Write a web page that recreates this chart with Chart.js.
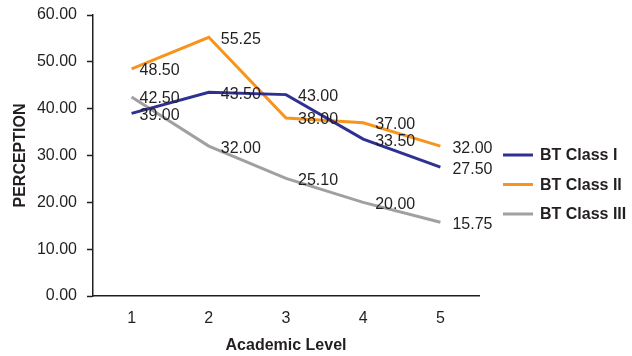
<!DOCTYPE html>
<html>
<head>
<meta charset="utf-8">
<script src="https://cdn.jsdelivr.net/npm/chart.js@4.4.1/dist/chart.umd.min.js"></script>
<style>
  html, body { margin: 0; padding: 0; background: #ffffff; }
  #wrap { width: 632px; height: 356px; }
</style>
</head>
<body>
<div id="wrap"><canvas id="c" width="632" height="356"></canvas></div>
<script>
// Academic levels on the x axis
const levels = ['1', '2', '3', '4', '5'];

// Perception scores per class
const classI   = [39.00, 43.50, 43.00, 33.50, 27.50];
const classII  = [48.50, 55.25, 38.00, 37.00, 32.00];
const classIII = [42.50, 32.00, 25.10, 20.00, 15.75];

const seriesNames = ['BT Class I', 'BT Class II', 'BT Class III'];
const seriesColors = ['#2e3192', '#f7941d', '#a0a0a0'];

const textColor = '#231f20';
const fontFamily = '"Liberation Sans", Arial, sans-serif';

// Writes each point's value just right of the point
const valueLabels = {
  id: 'valueLabels',
  afterDatasetsDraw(chart) {
    const ctx = chart.ctx;
    ctx.save();
    ctx.font = '16px ' + fontFamily;
    ctx.fillStyle = textColor;
    ctx.textAlign = 'left';
    ctx.textBaseline = 'middle';
    chart.data.datasets.forEach((ds, di) => {
      const meta = chart.getDatasetMeta(di);
      meta.data.forEach((pt, i) => {
        const dx = i === 0 ? 8 : 12;
        ctx.fillText(ds.data[i].toFixed(2), pt.x + dx, pt.y + 2);
      });
    });
    ctx.restore();
  }
};

// Legend drawn to the right of the plot
const sideLegend = {
  id: 'sideLegend',
  afterDraw(chart) {
    const ctx = chart.ctx;
    ctx.save();
    ctx.font = 'bold 16px ' + fontFamily;
    ctx.textBaseline = 'middle';
    ctx.textAlign = 'left';
    const x0 = 503, y0 = 155, step = 29.5;
    chart.data.datasets.forEach((ds, i) => {
      const y = y0 + i * step;
      ctx.strokeStyle = ds.borderColor;
      ctx.lineWidth = 3;
      ctx.beginPath();
      ctx.moveTo(x0, y);
      ctx.lineTo(x0 + 30, y);
      ctx.stroke();
      ctx.fillStyle = textColor;
      ctx.fillText(ds.label, x0 + 37, y + 1);
    });
    ctx.restore();
  }
};

const makeSet = (name, values, color) => ({
  label: name,
  data: values,
  borderColor: color,
  backgroundColor: color,
  borderWidth: 3,
  pointRadius: 0,
  pointHoverRadius: 0,
  tension: 0,
  fill: false
});

new Chart(document.getElementById('c'), {
  type: 'line',
  data: {
    labels: levels,
    datasets: [
      makeSet(seriesNames[0], classI, seriesColors[0]),
      makeSet(seriesNames[1], classII, seriesColors[1]),
      makeSet(seriesNames[2], classIII, seriesColors[2])
    ]
  },
  options: {
    responsive: false,
    animation: false,
    devicePixelRatio: 1,
    layout: { padding: { top: 15, right: 153, left: 0, bottom: 0 } },
    plugins: {
      legend: { display: false },
      tooltip: { enabled: false }
    },
    scales: {
      x: {
        offset: true,
        grid: { display: false, drawTicks: false },
        border: { display: true, color: textColor, width: 1.5 },
        ticks: { color: textColor, font: { size: 16, family: fontFamily }, padding: 13 },
        title: {
          display: true,
          text: 'Academic Level',
          color: textColor,
          font: { size: 16, weight: 'bold', family: fontFamily },
          padding: { top: 8, bottom: 1 }
        },
        afterFit(scale) { scale.height = 60; }
      },
      y: {
        min: 0,
        max: 60,
        grid: {
          display: true,
          drawOnChartArea: false,
          drawTicks: true,
          tickLength: 6,
          tickColor: textColor,
          tickWidth: 1.5
        },
        border: { display: true, color: textColor, width: 1.5 },
        ticks: {
          stepSize: 10,
          color: textColor,
          font: { size: 16, family: fontFamily },
          padding: 10,
          callback: v => Number(v).toFixed(2)
        },
        title: {
          display: true,
          text: 'PERCEPTION',
          color: textColor,
          font: { size: 16, weight: 'bold', family: fontFamily },
          padding: { top: 11, bottom: 4 }
        },
        afterFit(scale) {
          scale.width = 93;
          scale.paddingTop = 4;
          scale.paddingBottom = 4;
        }
      }
    }
  },
  plugins: [valueLabels, sideLegend]
});
</script>
</body>
</html>
